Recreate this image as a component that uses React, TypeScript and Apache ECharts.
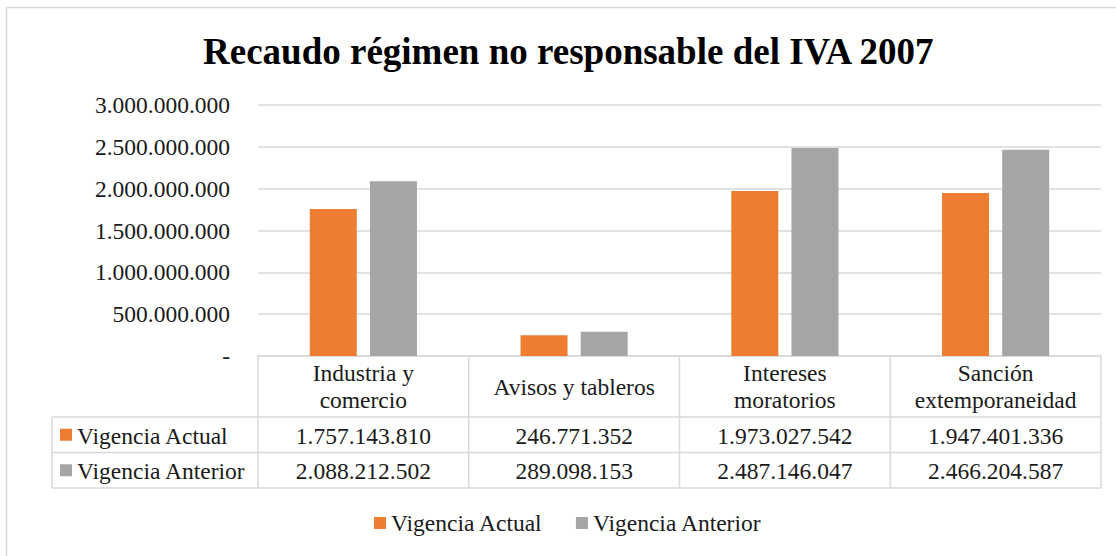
import React, { useEffect, useRef } from "react";
import * as echarts from "echarts";

const titleText = "Recaudo régimen no responsable del IVA 2007";
const categories = ["Industria y\ncomercio", "Avisos y tableros", "Intereses\nmoratorios", "Sanción\nextemporaneidad"];
const seriesNames = ["Vigencia Actual", "Vigencia Anterior"];
const vigenciaActual = [1757143810, 246771352, 1973027542, 1947401336];
const vigenciaAnterior = [2088212502, 289098153, 2487146047, 2466204587];
const yMax = 3000000000;
const yInterval = 500000000;
const colors = ["#ED7D31", "#A5A5A5"];

const FONT = "Liberation Serif";
const TEXT = "#1a1a1a";
const LINE = "#d9d9d9";

const fmt = (n: number) => (n === 0 ? "-" : Math.round(n).toString().replace(/\B(?=(\d{3})+(?!\d))/g, "."));

export default function App() {
  const ref = useRef<HTMLDivElement>(null);
  useEffect(() => {
    if (!ref.current) return;
    const chart = echarts.init(ref.current, undefined, { renderer: "svg" });
    const W = 1116;
    const gL = 258, gR = 1101, gT = 105, gB = 356;
    const band = (gR - gL) / categories.length;
    const rowH = [gB, 417, 452.5, 488];
    const labelL = 52;
    const fs = 23.5;
    const series = [vigenciaActual, vigenciaAnterior];

    const graphic: any[] = [];
    graphic.push({ type: "rect", shape: { x: 6.5, y: 7.5, width: 1200, height: 600 }, style: { fill: "none", stroke: LINE, lineWidth: 1.5 }, silent: true });
    const hl = (x1: number, x2: number, y: number) => graphic.push({ type: "line", shape: { x1, y1: y, x2, y2: y }, style: { stroke: LINE, lineWidth: 1.5 }, silent: true });
    const vl = (x: number, y1: number, y2: number) => graphic.push({ type: "line", shape: { x1: x, y1, x2: x, y2 }, style: { stroke: LINE, lineWidth: 1.5 }, silent: true });
    hl(labelL, gR, rowH[1]);
    hl(labelL, gR, rowH[2]);
    hl(labelL, gR, rowH[3]);
    vl(labelL, rowH[1], rowH[3]);
    for (let i = 0; i <= categories.length; i++) vl(gL + band * i, gB, rowH[3]);
    categories.forEach((c, i) => {
      graphic.push({
        type: "text",
        style: { text: c, x: gL + band * (i + 0.5), y: (rowH[0] + rowH[1]) / 2, align: "center", verticalAlign: "middle", fontSize: fs, fontFamily: FONT, fill: TEXT, lineHeight: 27 },
        silent: true,
      });
    });
    series.forEach((vals, r) => {
      const cy = (rowH[r + 1] + rowH[r + 2]) / 2;
      graphic.push({ type: "rect", shape: { x: 60, y: cy - 6, width: 12, height: 12 }, style: { fill: colors[r] }, silent: true });
      graphic.push({ type: "text", style: { text: seriesNames[r], x: 77, y: cy + 1, align: "left", verticalAlign: "middle", fontSize: fs, fontFamily: FONT, fill: TEXT }, silent: true });
      vals.forEach((v, i) => {
        graphic.push({ type: "text", style: { text: fmt(v), x: gL + band * (i + 0.5), y: cy + 1, align: "center", verticalAlign: "middle", fontSize: fs, fontFamily: FONT, fill: TEXT }, silent: true });
      });
    });

    chart.setOption({
      animation: false,
      backgroundColor: "#ffffff",
      textStyle: { fontFamily: FONT },
      title: {
        text: titleText,
        left: 198,
        top: 28,
        textStyle: { fontFamily: FONT, fontSize: 37, fontWeight: "bold", color: "#000" },
      },
      legend: {
        data: seriesNames,
        left: 369,
        top: 506,
        icon: "rect",
        itemWidth: 12,
        itemHeight: 12,
        itemGap: 33,
        textStyle: { fontFamily: FONT, fontSize: fs, color: TEXT },
      },
      grid: { left: gL, right: W - gR, top: gT, bottom: 556 - gB, containLabel: false },
      xAxis: {
        type: "category",
        data: categories,
        axisLine: { show: true, lineStyle: { color: LINE, width: 1.5 } },
        axisTick: { show: false },
        axisLabel: { show: false },
      },
      yAxis: {
        type: "value",
        min: 0,
        max: yMax,
        interval: yInterval,
        axisLine: { show: false },
        axisTick: { show: false },
        splitLine: { lineStyle: { color: LINE, width: 1.5 } },
        axisLabel: { formatter: (v: number) => fmt(v), fontFamily: FONT, fontSize: fs, color: TEXT, margin: 28 },
      },
      series: series.map((vals, i) => ({
        name: seriesNames[i],
        type: "bar",
        data: vals,
        barWidth: 47,
        barGap: "28%",
        itemStyle: { color: colors[i] },
      })),
      graphic,
    });
    return () => chart.dispose();
  }, []);
  return <div ref={ref} style={{ position: "fixed", left: 0, top: 0, width: 1116, height: 556 }} />;
}
